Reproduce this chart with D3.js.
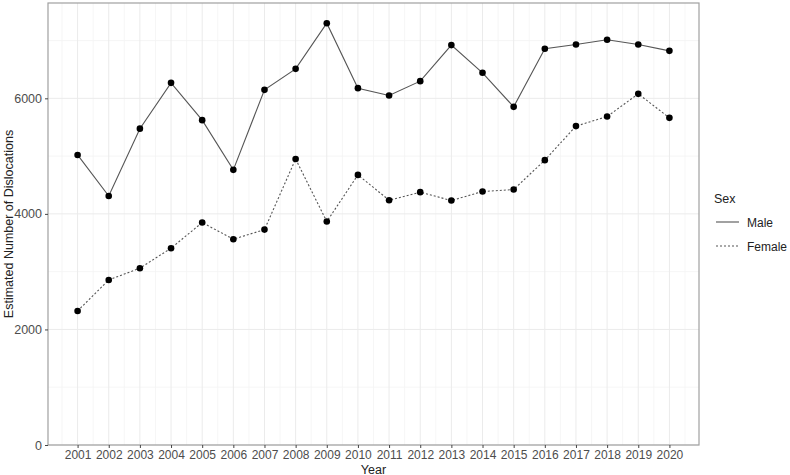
<!DOCTYPE html>
<html><head><meta charset="utf-8">
<script src="https://cdn.jsdelivr.net/npm/d3@7"></script>
<style>body{margin:0;background:#fff}svg{display:block;font-family:"Liberation Sans",Arial,sans-serif}</style>
</head><body><svg id="c" width="790" height="475"></svg>
<script>
const years = [2001,2002,2003,2004,2005,2006,2007,2008,2009,2010,2011,2012,2013,2014,2015,2016,2017,2018,2019,2020];
const male = [5020,4310,5475,6268,5622,4762,6147,6510,7300,6176,6049,6297,6921,6442,5853,6857,6932,7013,6932,6822];
const female = [2320,2857,3060,3406,3850,3562,3728,4950,3867,4675,4237,4376,4231,4387,4421,4930,5519,5685,6078,5662];
const yTicks = [0,2000,4000,6000];
const yMinor = [1000,3000,5000,7000];
const seriesNames = ["Male","Female"];

const svg = d3.select("#c");
const L=48, R=699, T=3, B=445;
const x = d3.scaleLinear().domain([2000.05,2020.95]).range([L,R]);
const y = d3.scaleLinear().domain([0,7650]).range([B,T]);

// grid
const g = svg.append("g");
const xMinor = d3.range(2000.5,2021,1);
g.selectAll(".xm").data(xMinor).enter().append("line")
  .attr("x1",d=>x(d)).attr("x2",d=>x(d)).attr("y1",T).attr("y2",B)
  .attr("stroke","#f4f4f4").attr("stroke-width",0.8);
g.selectAll(".ym").data(yMinor).enter().append("line")
  .attr("y1",d=>y(d)).attr("y2",d=>y(d)).attr("x1",L).attr("x2",R)
  .attr("stroke","#f4f4f4").attr("stroke-width",0.8);
g.selectAll(".xM").data(years).enter().append("line")
  .attr("x1",d=>x(d)).attr("x2",d=>x(d)).attr("y1",T).attr("y2",B)
  .attr("stroke","#ebebeb").attr("stroke-width",1);
g.selectAll(".yM").data(yTicks).enter().append("line")
  .attr("y1",d=>y(d)).attr("y2",d=>y(d)).attr("x1",L).attr("x2",R)
  .attr("stroke","#ebebeb").attr("stroke-width",1);

// lines
const line = d3.line().x((d,i)=>x(years[i])).y(d=>y(d));
svg.append("path").datum(male).attr("d",line).attr("fill","none")
  .attr("stroke","#555").attr("stroke-width",1.1);
svg.append("path").datum(female).attr("d",line).attr("fill","none")
  .attr("stroke","#555").attr("stroke-width",1.1).attr("stroke-dasharray","2,2");
[male,female].forEach(s=>{
  svg.append("g").selectAll("circle").data(s).enter().append("circle")
    .attr("cx",(d,i)=>x(years[i])).attr("cy",d=>y(d)).attr("r",3.3).attr("fill","#000");
});

// border
svg.append("rect").attr("x",L).attr("y",T).attr("width",R-L).attr("height",B-T)
  .attr("fill","none").attr("stroke","#a0a0a0").attr("stroke-width",1.2);

// axes
const xa = svg.append("g").attr("transform",`translate(0,${B})`)
  .call(d3.axisBottom(x).tickValues(years).tickFormat(d3.format("d")).tickSize(3).tickPadding(2));
const ya = svg.append("g").attr("transform",`translate(${L},0)`)
  .call(d3.axisLeft(y).tickValues(yTicks).tickFormat(d3.format("d")).tickSize(3).tickPadding(3));
[xa,ya].forEach(a=>{
  a.select(".domain").remove();
  a.selectAll(".tick line").attr("stroke","#444");
  a.selectAll(".tick text").attr("fill","#4d4d4d").style("font-size","12.5px").style("font-family","'Liberation Sans',Arial,sans-serif");
});
xa.selectAll(".tick text").style("font-size","12px");

svg.append("text").attr("x",(L+R)/2).attr("y",473.5).attr("text-anchor","middle")
  .style("font-size","12.5px").attr("fill","#222").text("Year");
svg.append("text").attr("transform",`translate(13,${(T+B)/2}) rotate(-90)`).attr("text-anchor","middle")
  .style("font-size","12.5px").attr("fill","#222").text("Estimated Number of Dislocations");

// legend
const lg = svg.append("g");
lg.append("text").attr("x",714).attr("y",203).style("font-size","12.5px").attr("fill","#222").text("Sex");
seriesNames.forEach((n,i)=>{
  const yy = 222 + i*24;
  lg.append("line").attr("x1",716).attr("x2",739).attr("y1",yy).attr("y2",yy)
    .attr("stroke","#555").attr("stroke-width",1.1).attr("stroke-dasharray",i?"2,2":null);
  lg.append("text").attr("x",747).attr("y",yy+4.5).style("font-size","12px").attr("fill","#222").text(n);
});
</script></body></html>
